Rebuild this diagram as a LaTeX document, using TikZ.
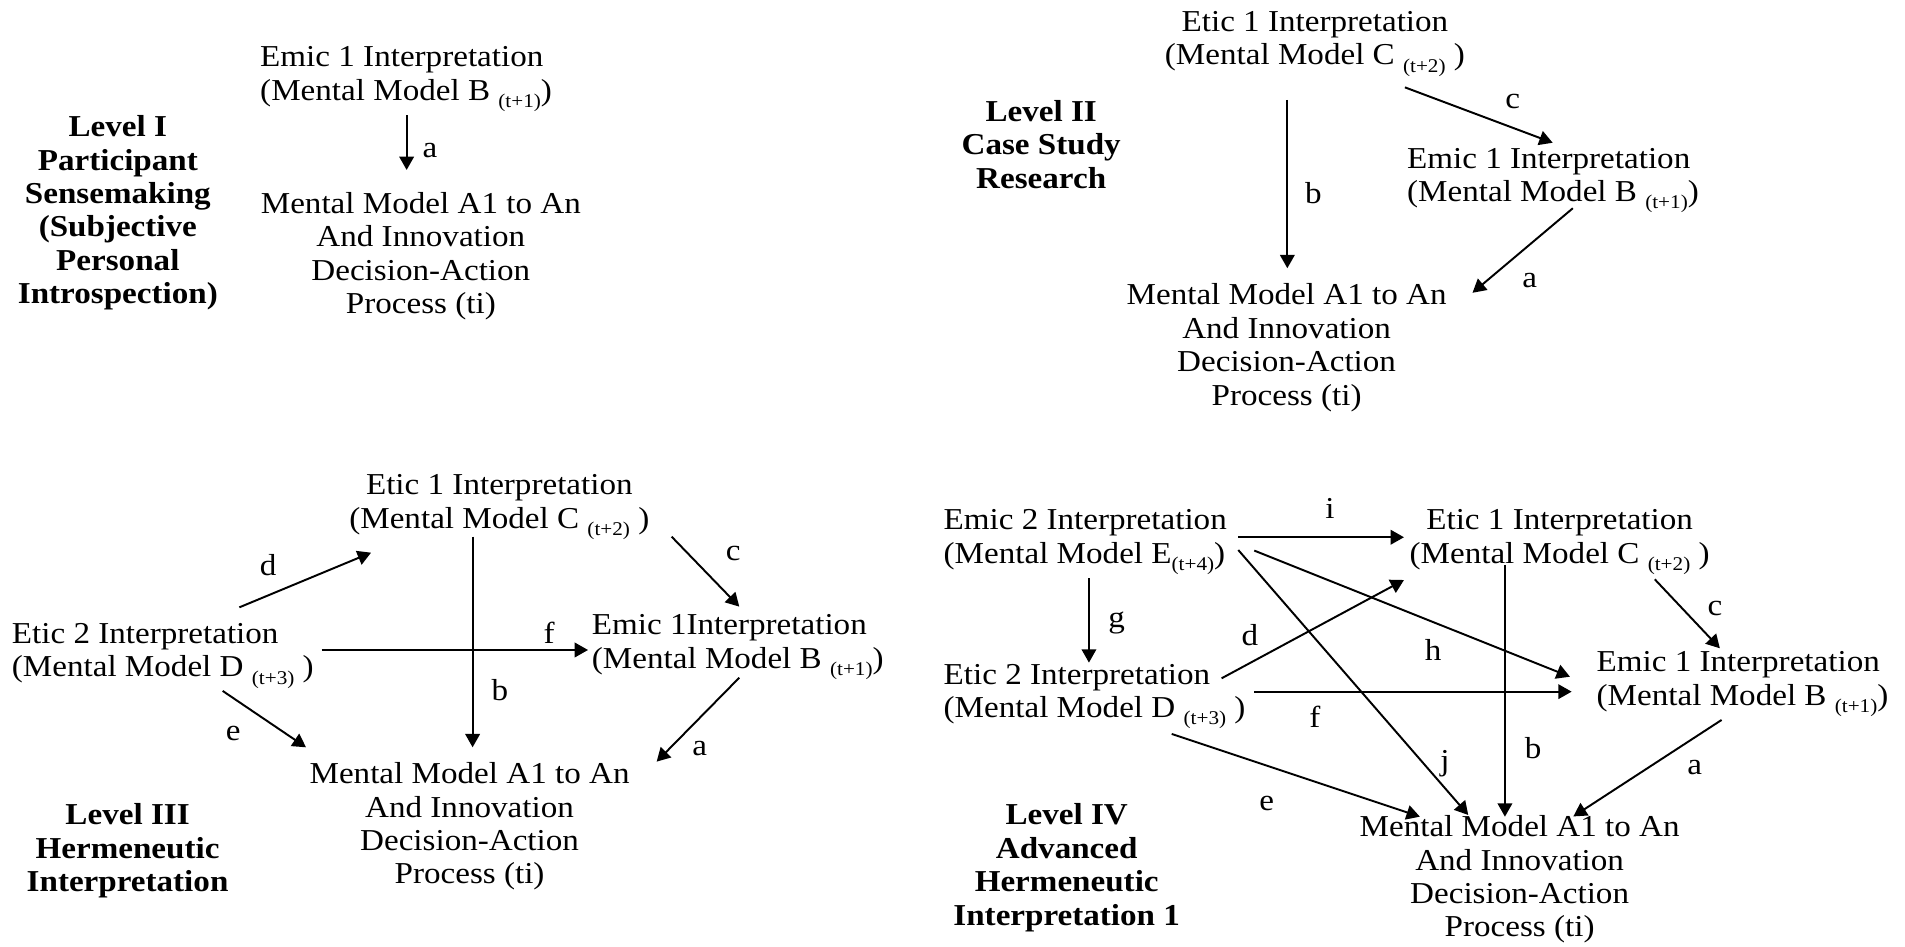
\documentclass[tikz,border=0pt]{standalone}
\usepackage{fontspec}
\setmainfont{Liberation Serif}[FakeStretch=1.09]
\usetikzlibrary{arrows.meta}
% lowered, smaller time index after a mental-model letter
\newcommand{\tsub}[1]{\raisebox{-6pt}{\fontsize{16}{16}\selectfont #1}}
% multi-line nodes are placed by the baseline of their last line
\tikzset{
  txt/.style={inner sep=0pt, font=\fontsize{25}{27.5}\selectfont},
  lefttxt/.style={txt, align=left, anchor=base west},
  midtxt/.style={txt, align=center, anchor=base},
  levellabel/.style={txt, align=center, anchor=base, font=\fontsize{25}{27.5}\selectfont\bfseries},
  edgelabel/.style={inner sep=0pt, font=\fontsize{25}{27.5}\selectfont},
  arr/.style={line width=1.6pt, -{Triangle[length=11pt,width=12pt]}}
}
\begin{document}
\begin{tikzpicture}[x=1pt,y=-1pt]
\useasboundingbox (0,0) rectangle (1568,779);

% ---------------- Level I ----------------
\node[levellabel] (L1) at (97,250) {Level I\\Participant\\Sensemaking\\(Subjective\\Personal\\Introspection)};
\node[lefttxt] (B1) at (214,82.4) {Emic 1 Interpretation\\(Mental Model B \tsub{(t+1)})};
\node[midtxt] (A1) at (346.4,258.1) {Mental Model A1 to An\\And Innovation\\Decision-Action\\Process (ti)};
\coordinate (a1s) at (334.7,94.7);
\coordinate (a1e) at (334.7,139.9);
\draw[arr] (a1s) -- (a1e);
\node[edgelabel] (la1) at (354,123.5) {a};

% ---------------- Level II ----------------
\node[levellabel] (L2) at (857,155) {Level II\\Case Study\\Research};
\node[midtxt] (C2) at (1082.3,53.5) {Etic 1 Interpretation\\(Mental Model C \tsub{(t+2)} )};
\node[lefttxt] (B2) at (1158,166) {Emic 1 Interpretation\\(Mental Model B \tsub{(t+1)})};
\node[midtxt] (A2) at (1059,333.5) {Mental Model A1 to An\\And Innovation\\Decision-Action\\Process (ti)};
\coordinate (b2s) at (1059.6,82.3);  \coordinate (b2e) at (1059.6,220.8);
\coordinate (c2s) at (1156.4,71.9);  \coordinate (c2e) at (1278,117.5);
\coordinate (a2s) at (1294.6,171.4); \coordinate (a2e) at (1212,241);
\draw[arr] (b2s) -- (b2e);
\draw[arr] (c2s) -- (c2e);
\draw[arr] (a2s) -- (a2e);
\node[edgelabel] (lb2) at (1081,159) {b};
\node[edgelabel] (lc2) at (1245,83.7) {c};
\node[edgelabel] (la2) at (1259,230.5) {a};

% ---------------- Level III ----------------
\node[levellabel] (L3) at (105,734) {Level III\\Hermeneutic\\Interpretation};
\node[midtxt] (C3) at (411,434.9) {Etic 1 Interpretation\\(Mental Model C \tsub{(t+2)} )};
\node[lefttxt] (D3) at (9.6,557) {Etic 2 Interpretation\\(Mental Model D \tsub{(t+3)} )};
\node[lefttxt] (B3) at (487,550.1) {Emic 1Interpretation\\(Mental Model B \tsub{(t+1)})};
\node[midtxt] (A3) at (386.5,727.5) {Mental Model A1 to An\\And Innovation\\Decision-Action\\Process (ti)};
\coordinate (d3s) at (197,499.9);   \coordinate (d3e) at (305.4,454.9);
\coordinate (c3s) at (552.8,441.7); \coordinate (c3e) at (608.5,499.3);
\coordinate (f3s) at (264.8,535);   \coordinate (f3e) at (484,535);
\coordinate (b3s) at (389,441.7);   \coordinate (b3e) at (389,615.1);
\coordinate (e3s) at (183.3,568.7); \coordinate (e3e) at (251.9,615.1);
\coordinate (a3s) at (608.5,557.8); \coordinate (a3e) at (540.5,626.9);
\draw[arr] (d3s) -- (d3e);
\draw[arr] (c3s) -- (c3e);
\draw[arr] (f3s) -- (f3e);
\draw[arr] (b3s) -- (b3e);
\draw[arr] (e3s) -- (e3e);
\draw[arr] (a3s) -- (a3e);
\node[edgelabel] (ld3) at (220.8,465) {d};
\node[edgelabel] (lc3) at (603.6,455.4) {c};
\node[edgelabel] (lf3) at (452,521) {f};
\node[edgelabel] (lb3) at (411.5,568) {b};
\node[edgelabel] (le3) at (192,603.6) {e};
\node[edgelabel] (la3) at (576,616) {a};

% ---------------- Level IV ----------------
\node[levellabel] (L4) at (878,761.5) {Level IV\\Advanced\\Hermeneutic\\Interpretation 1};
\node[lefttxt] (E4) at (776.5,463.7) {Emic 2 Interpretation\\(Mental Model E\tsub{(t+4)})};
\node[midtxt] (C4) at (1283.7,463.7) {Etic 1 Interpretation\\(Mental Model C \tsub{(t+2)} )};
\node[lefttxt] (D4) at (776.5,590.5) {Etic 2 Interpretation\\(Mental Model D \tsub{(t+3)} )};
\node[lefttxt] (B4) at (1314,580.5) {Emic 1 Interpretation\\(Mental Model B \tsub{(t+1)})};
\node[midtxt] (A4) at (1250.8,771.1) {Mental Model A1 to An\\And Innovation\\Decision-Action\\Process (ti)};
\coordinate (i4s) at (1019.2,442.2); \coordinate (i4e) at (1155.6,442.2);
\coordinate (g4s) at (896.3,476);    \coordinate (g4e) at (896.3,545.4);
\coordinate (h4s) at (1032.4,453.2); \coordinate (h4e) at (1292.2,557);
\coordinate (j4s) at (1019.2,452.7); \coordinate (j4e) at (1208.5,670.8);
\coordinate (d4s) at (1005.5,558.3); \coordinate (d4e) at (1155.6,477.4);
\coordinate (f4s) at (1032.4,569.3); \coordinate (f4e) at (1293.6,569.3);
\coordinate (b4s) at (1238.7,465);   \coordinate (b4e) at (1238.7,672.2);
\coordinate (c4s) at (1362,476.8);   \coordinate (c4e) at (1415.6,533.6);
\coordinate (e4s) at (964.4,604.1);  \coordinate (e4e) at (1168.7,672.2);
\coordinate (a4s) at (1417,592.6);   \coordinate (a4e) at (1295,672);
\draw[arr] (i4s) -- (i4e);
\draw[arr] (g4s) -- (g4e);
\draw[arr] (h4s) -- (h4e);
\draw[arr] (j4s) -- (j4e);
\draw[arr] (d4s) -- (d4e);
\draw[arr] (f4s) -- (f4e);
\draw[arr] (b4s) -- (b4e);
\draw[arr] (c4s) -- (c4e);
\draw[arr] (e4s) -- (e4e);
\draw[arr] (a4s) -- (a4e);
\node[edgelabel] (li4) at (1094.7,418.4) {i};
\node[edgelabel] (lg4) at (919,513) {g};
\node[edgelabel] (lh4) at (1179.7,535) {h};
\node[edgelabel] (lj4) at (1189.3,628.3) {j};
\node[edgelabel] (ld4) at (1028.8,522.6) {d};
\node[edgelabel] (lf4) at (1082.3,589.9) {f};
\node[edgelabel] (lb4) at (1262,615.9) {b};
\node[edgelabel] (lc4) at (1411.5,500.5) {c};
\node[edgelabel] (le4) at (1042.6,661.2) {e};
\node[edgelabel] (la4) at (1395,632) {a};
\end{tikzpicture}
\end{document}
